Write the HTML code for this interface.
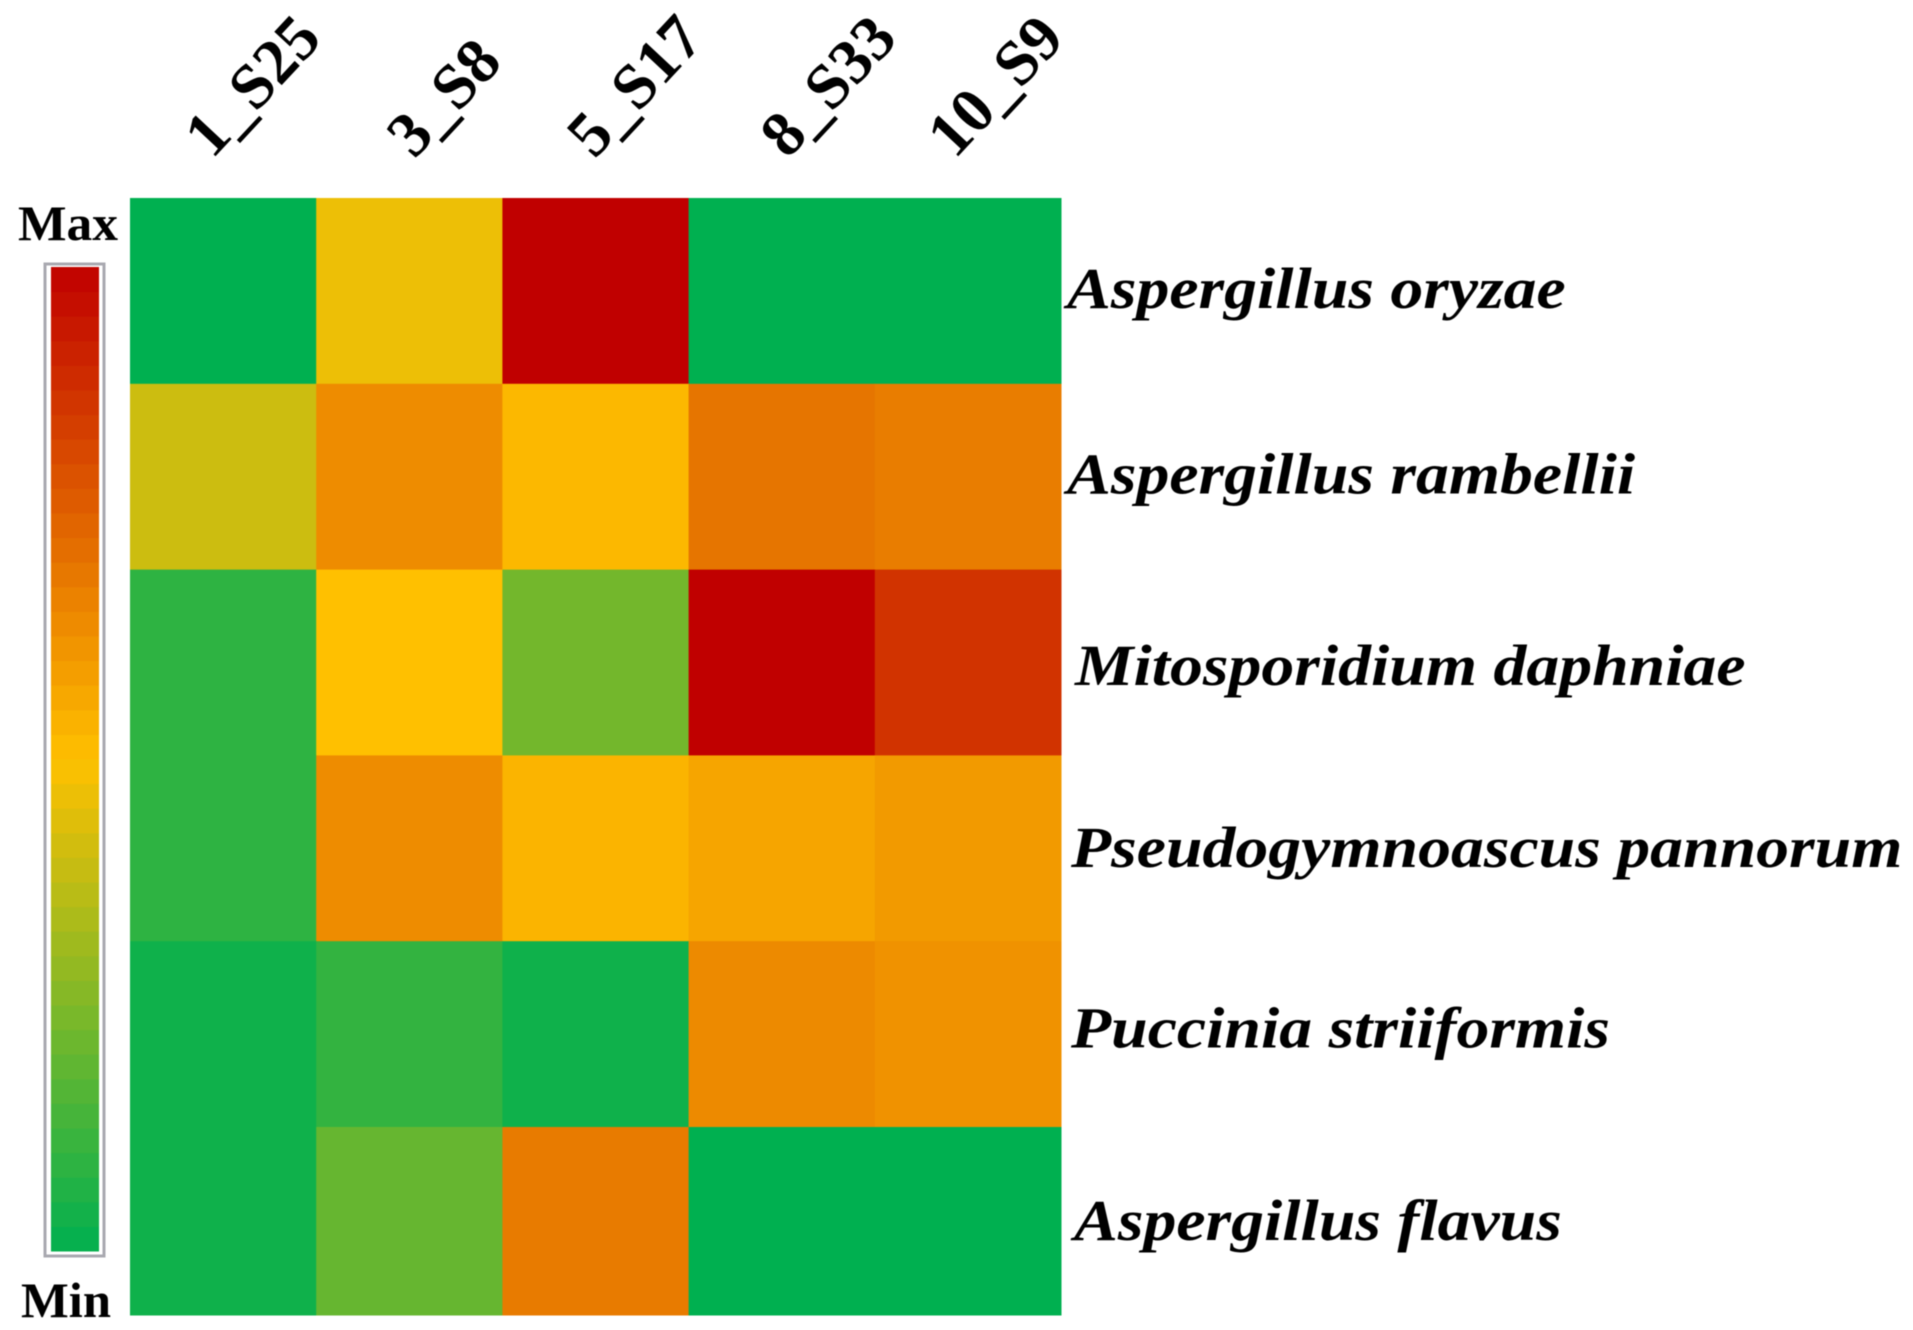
<!DOCTYPE html>
<html lang="en">
<head>
<meta charset="utf-8">
<title>Fungal species abundance heatmap</title>
<style>
html,body{margin:0;padding:0;background:#fff;width:1913px;height:1330px;overflow:hidden}
svg{display:block;filter:blur(0.6px)}
text{font-family:"Liberation Serif",serif;font-weight:bold;fill:#000}
.row-label{font-style:italic;font-size:58px}
.col-label{font-size:64px}
.scale-label{font-size:50px}
</style>
</head>
<body>
<svg id="chart" xmlns="http://www.w3.org/2000/svg" width="1913" height="1330" viewBox="0 0 1913 1330">
  <g id="cells"></g>
  <g id="col-labels"></g>
  <g id="row-labels"></g>
  <g id="legend">
    <text class="scale-label" x="18" y="240" textLength="100" lengthAdjust="spacingAndGlyphs">Max</text>
    <g id="legend-steps"></g>
    <rect x="45" y="264" width="59" height="992" fill="none" stroke="#a9a9b0" stroke-width="3"></rect>
    <text class="scale-label" x="21" y="1317" textLength="90" lengthAdjust="spacingAndGlyphs">Min</text>
  </g>
</svg>
<script>
const columns = ['1_S25', '3_S8', '5_S17', '8_S33', '10_S9'];
const rows = ['Aspergillus oryzae', 'Aspergillus rambellii', 'Mitosporidium daphniae', 'Pseudogymnoascus pannorum', 'Puccinia striiformis', 'Aspergillus flavus'];
const oryzae = [0, 0.465, 1, 0, 0];
const rambellii = [0.4, 0.635, 0.52, 0.695, 0.675];
const mitosporidium = [0.09, 0.5, 0.225, 1, 0.867];
const pseudogymnoascus = [0.09, 0.635, 0.53, 0.57, 0.6];
const puccinia = [0.03, 0.1, 0.03, 0.64, 0.62];
const flavus = [0.03, 0.2, 0.68, 0, 0];
const matrix = [oryzae, rambellii, mitosporidium, pseudogymnoascus, puccinia, flavus];

const NS = 'http://www.w3.org/2000/svg';
const plot = { left: 130, right: 1061, top: 198, bottom: 1315, rowHeight: 185.8 };
const legendBox = { left: 51, right: 99, top: 267, bottom: 1251, steps: 40 };

function xScale(i) { return plot.left + i * (plot.right - plot.left) / columns.length; }
function yScale(i) { return i >= rows.length ? plot.bottom : plot.top + i * plot.rowHeight; }
function legendY(v) { return legendBox.bottom - v * (legendBox.bottom - legendBox.top); }

function mix(a, b, t) {
  return a.map((c, i) => Math.round(c + (b[i] - c) * t));
}
function colorFor(v) {
  const green = [0, 176, 80], yellow = [255, 192, 0], red = [192, 0, 0];
  const c = v <= 0.5 ? mix(green, yellow, v / 0.5) : mix(yellow, red, (v - 0.5) / 0.5);
  return 'rgb(' + c.join(',') + ')';
}
function makeRect(x, y, w, h, fill) {
  const r = document.createElementNS(NS, 'rect');
  r.setAttribute('x', x);
  r.setAttribute('y', y);
  r.setAttribute('width', w);
  r.setAttribute('height', h);
  r.setAttribute('fill', fill);
  return r;
}

const cellsG = document.getElementById('cells');
matrix.forEach((vals, r) => {
  vals.forEach((v, c) => {
    const cell = makeRect(xScale(c), yScale(r), xScale(c + 1) - xScale(c) + 0.5, yScale(r + 1) - yScale(r) + 0.5, colorFor(v));
    
    
    cellsG.appendChild(cell);
  });
});

const colNudge = [-10, 6, 0, 7, -12];
const colG = document.getElementById('col-labels');
columns.forEach((name, i) => {
  const t = document.createElementNS(NS, 'text');
  const x = xScale(i) + 92 + colNudge[i];
  const y = 160;
  t.setAttribute('class', 'col-label');
  t.setAttribute('transform', 'translate(' + x + ',' + y + ') rotate(-47)');
  
  
  t.textContent = name;
  colG.appendChild(t);
});

const rowNudge = [17.3, 16.8, 22.3, 18.7, 13.4, 19];
const rowIndent = [0, 0, 8, 4, 4, 7];
const rowG = document.getElementById('row-labels');
rows.forEach((name, i) => {
  const t = document.createElementNS(NS, 'text');
  const x = 1067 + rowIndent[i];
  const y = (yScale(i) + yScale(i + 1)) / 2 + rowNudge[i];
  t.setAttribute('class', 'row-label');
  t.setAttribute('transform', 'translate(' + x + ',' + y + ') scale(1.134,1)');
  
  
  t.textContent = name;
  rowG.appendChild(t);
});

const stepsG = document.getElementById('legend-steps');
for (let s = 0; s < legendBox.steps; s++) {
  const v0 = s / legendBox.steps, v1 = (s + 1) / legendBox.steps;
  const st = makeRect(legendBox.left, legendY(v1), legendBox.right - legendBox.left, legendY(v0) - legendY(v1) + 0.5, colorFor((v0 + v1) / 2));
  
  
  stepsG.appendChild(st);
}
</script>
</body>
</html>
